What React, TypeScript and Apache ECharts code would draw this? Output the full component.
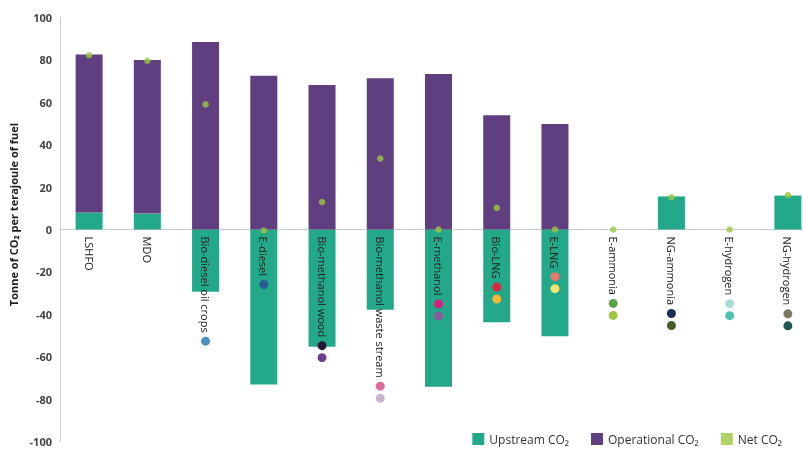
import React, { useEffect, useRef } from "react";
import * as echarts from "echarts";

const categories = [
  "LSHFO",
  "MDO",
  "Bio-diesel oil crops",
  "E-diesel",
  "Bio-methanol wood",
  "Bio-methanol waste stream",
  "E-methanol",
  "Bio-LNG",
  "E-LNG",
  "E-ammonia",
  "NG-ammonia",
  "E-hydrogen",
  "NG-hydrogen",
];

const upstream = [8, 7.5, -29.4, -73.1, -55.3, -37.9, -74.2, -43.7, -50.3, 0, 15.6, 0, 16];
const operational = [74.5, 72.4, 88.4, 72.5, 68.2, 71.4, 73.3, 53.9, 49.8, 0, 0, 0, 0];
const net = [82.2, 79.6, 59, -0.5, 13, 33.5, 0, 10.2, 0, 0, 15.2, 0, 16.2];

const yTicks = [-100, -80, -60, -40, -20, 0, 20, 40, 60, 80, 100];

const labelDots: string[][] = [
  [],
  [],
  ["#4a92c4"],
  ["#2a5b97"],
  ["#2b1838", "#6b3f8c"],
  ["#e06a9c", "#c8b4d2"],
  ["#d81f7c", "#8c5b9b"],
  ["#d9283d", "#f6b43a"],
  ["#e87a6c", "#f3e46c"],
  ["#5b9f46", "#9cc63e"],
  ["#1f2d50", "#4b5a2b"],
  ["#a9dcd6", "#52c0b1"],
  ["#7b7a62", "#1e5a51"],
];

const COLORS = {
  upstream: "#23a98a",
  operational: "#5f3f80",
  net: "#9cc63e",
};

export default function App() {
  const ref = useRef<HTMLDivElement>(null);

  useEffect(() => {
    if (!ref.current) return;
    const chart = echarts.init(ref.current, undefined, { renderer: "svg" });

    const rich: Record<string, any> = {
      t: { fontSize: 11, color: "#222222", fontFamily: "Open Sans" },
      sp: { width: 4, height: 9 },
      sp2: { width: 3, height: 9 },
    };
    const dotKeys: Record<string, string> = {};
    let k = 0;
    labelDots.forEach((arr) =>
      arr.forEach((c) => {
        if (!dotKeys[c]) {
          const key = "d" + k++;
          dotKeys[c] = key;
          rich[key] = { width: 9, height: 9, borderRadius: 4.5, backgroundColor: c, opacity: 1 };
        }
      })
    );

    const labelText = (idx: number) => {
      const dots = labelDots[idx] || [];
      let s = "{t|" + categories[idx] + "}";
      dots.forEach((c, i) => {
        s += (i === 0 ? "{sp|}" : "{sp2|}") + "{" + dotKeys[c] + "|}";
      });
      return s;
    };

    const option = {
      animation: false,
      grid: {
        left: 60,
        right: -14,
        top: 17.5,
        bottom: 8.5,
        containLabel: false,
        outerBoundsMode: "none",
      },
      legend: {
        right: 16,
        bottom: 0,
        icon: "rect",
        itemWidth: 12,
        itemHeight: 12,
        itemGap: 22,
        textStyle: { fontSize: 12, color: "#333", fontFamily: "Open Sans" },
        data: ["Upstream CO₂", "Operational CO₂", "Net CO₂"],
      },
      xAxis: {
        type: "category",
        data: categories,
        axisLine: { onZero: true, lineStyle: { color: "#cccccc", width: 1 } },
        axisTick: { show: false },
        axisLabel: { show: false },
      },
      yAxis: {
        type: "value",
        min: -100,
        max: 100,
        interval: 20,
        name: "Tonne of CO₂ per terajoule of fuel",
        nameLocation: "middle",
        nameGap: 39,
        nameTextStyle: {
          fontSize: 11,
          fontWeight: "bold",
          color: "#1e1e1e",
          fontFamily: "Open Sans",
          padding: [0, 0, 0, 30],
        },
        axisLine: { show: true, lineStyle: { color: "#cccccc" } },
        axisTick: { show: false },
        splitLine: { show: false },
        axisLabel: {
          fontSize: 11,
          fontWeight: "bold",
          color: "#444",
          margin: 8,
          fontFamily: "Open Sans",
          customValues: yTicks,
        },
      },
      series: [
        {
          name: "Upstream CO₂",
          type: "bar",
          stack: "total",
          barWidth: 27,
          data: upstream,
          itemStyle: { color: COLORS.upstream },
        },
        {
          name: "Operational CO₂",
          type: "bar",
          stack: "total",
          barWidth: 27,
          data: operational,
          itemStyle: { color: COLORS.operational },
        },
        {
          name: "Net CO₂",
          type: "scatter",
          data: net,
          symbolSize: 6.5,
          itemStyle: { color: COLORS.net },
          z: 5,
        },
        {
          name: "categoryLabels",
          type: "scatter",
          silent: true,
          symbolSize: 0,
          z: 6,
          itemStyle: { color: "#222222", opacity: 1 },
          data: categories.map((_, i) => [i, 0]),
          label: {
            show: true,
            position: "bottom",
            distance: 7,
            rotate: -90,
            align: "left",
            verticalAlign: "middle",
            color: "#222222",
            opacity: 1,
            textBorderWidth: 0,
            formatter: (p: any) => labelText(p.dataIndex),
            rich,
          },
          labelLayout: { hideOverlap: false },
        },
      ],
    };

    chart.setOption(option as any);
    return () => chart.dispose();
  }, []);

  return (
    <div
      ref={ref}
      style={{ position: "fixed", left: 0, top: 0, width: 803, height: 450 }}
    />
  );
}
